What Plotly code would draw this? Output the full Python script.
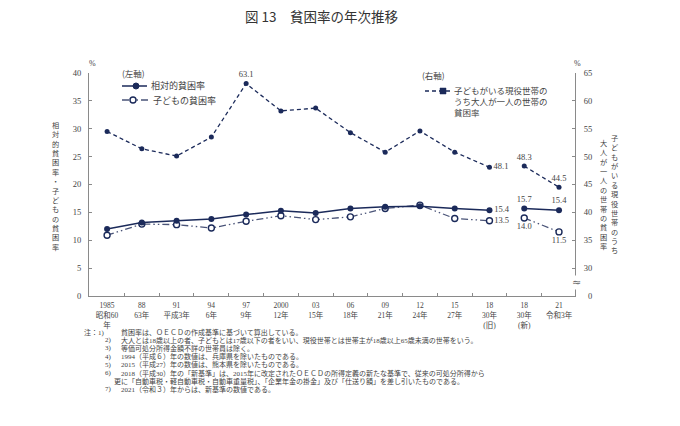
import plotly.graph_objects as go

# ---------------- data ----------------
categories = ["1985<br>昭和60<br>年", "88<br>63年", "91<br>平成3年", "94<br>6年", "97<br>9年",
              "2000<br>12年", "03<br>15年", "06<br>18年", "09<br>21年", "12<br>24年",
              "15<br>27年", "18<br>30年<br>(旧)", "18<br>30年<br>(新)", "21<br>令和3年"]
relative_rate = [12.0, 13.2, 13.5, 13.8, 14.6, 15.3, 14.9, 15.7, 16.0, 16.1, 15.7, 15.4, 15.7, 15.4]
child_rate = [10.9, 12.9, 12.8, 12.2, 13.4, 14.4, 13.7, 14.2, 15.7, 16.3, 13.9, 13.5, 14.0, 11.5]
single_adult_rate = [54.5, 51.4, 50.1, 53.5, 63.1, 58.2, 58.7, 54.3, 50.8, 54.6, 50.8, 48.1, 48.3, 44.5]

relative_labels = [""] * 11 + ["15.4", "15.7", "15.4"]
child_labels = [""] * 11 + ["13.5", "14.0", "11.5"]
single_labels = [""] * 4 + ["63.1"] + [""] * 6 + ["48.1", "48.3", "44.5"]

left_ticks = [0, 5, 10, 15, 20, 25, 30, 35, 40]
right_tickvals = [25, 30, 35, 40, 45, 50, 55, 60, 65]
right_ticktext = ["  0", "30", "35", "40", "45", "50", "55", "60", "65"]

title_text = "図 13　貧困率の年次推移"
left_axis_title = "相対的貧困率・子どもの貧困率"
right_axis_title_col1 = "子どもがいる現役世帯のうち"
right_axis_title_col2 = "大人が一人の世帯の貧困率"
notes = [
    ("注：1)", "貧困率は、ＯＥＣＤの作成基準に基づいて算出している。"),
    ("2)", "大人とは18歳以上の者、子どもとは17歳以下の者をいい、現役世帯とは世帯主が18歳以上65歳未満の世帯をいう。"),
    ("3)", "等価可処分所得金額不詳の世帯員は除く。"),
    ("4)", "1994（平成６）年の数値は、兵庫県を除いたものである。"),
    ("5)", "2015（平成27）年の数値は、熊本県を除いたものである。"),
    ("6)", "2018（平成30）年の「新基準」は、2015年に改定されたＯＥＣＤの所得定義の新たな基準で、従来の可処分所得から"),
    ("", "更に「自動車税・軽自動車税・自動車重量税」、「企業年金の掛金」及び「仕送り額」を差し引いたものである。"),
    ("7)", "2021（令和３）年からは、新基準の数値である。"),
]

# ---------------- style ----------------
NAVY = "#1b2a5a"
CHILD_LINE = "#4a5478"
TXT = "#444444"
AX = "#8a8a8a"
FONT = "Liberation Serif, Noto Sans CJK JP"
JFONT = "Noto Sans CJK JP"

L, R, T, B = 89, 575, 73, 296
W, H = R - L, B - T


def px(x):
    return (x - L) / W


def py(y):
    return (B - y) / H


fig = go.Figure()

old = slice(0, 12)
new = slice(12, 14)


def pos_list(labels, default, special):
    return [special.get(i, default) for i in range(len(labels))]


rel_pos = pos_list(relative_labels, "top center", {11: "middle right"})
child_pos = pos_list(child_labels, "bottom center", {11: "middle right"})
single_pos = pos_list(single_labels, "top center", {11: "middle right"})

for seg in (old, new):
    fig.add_trace(go.Scatter(
        x=categories[seg], y=single_adult_rate[seg], yaxis="y2",
        mode="lines+markers+text", text=single_labels[seg], textposition=single_pos[seg],
        textfont=dict(size=8.5, color=TXT, family=FONT),
        line=dict(color=NAVY, width=1.3, dash="4px,3px"),
        marker=dict(symbol="circle", size=5, color=NAVY),
        showlegend=False, cliponaxis=False))
    fig.add_trace(go.Scatter(
        x=categories[seg], y=child_rate[seg],
        mode="lines+markers+text", text=child_labels[seg], textposition=child_pos[seg],
        textfont=dict(size=8.5, color=TXT, family=FONT),
        line=dict(color=CHILD_LINE, width=1.3, dash="7px,3px,1.5px,3px,1.5px,3px"),
        marker=dict(symbol="circle", size=6, color="white", line=dict(color=NAVY, width=1.4)),
        showlegend=False, cliponaxis=False))
    fig.add_trace(go.Scatter(
        x=categories[seg], y=relative_rate[seg],
        mode="lines+markers+text", text=relative_labels[seg], textposition=rel_pos[seg],
        textfont=dict(size=8.5, color=TXT, family=FONT),
        line=dict(color=NAVY, width=1.5),
        marker=dict(symbol="circle", size=6, color=NAVY),
        showlegend=False, cliponaxis=False))

ann = []
shapes = []


def text_at(x, y, text, size, family=JFONT, xanchor="center", color=TXT, **kw):
    d = dict(x=px(x), y=py(y), xref="paper", yref="paper", text=text, showarrow=False,
             xanchor=xanchor, yanchor="middle", borderpad=0,
             font=dict(size=size, color=color, family=family))
    d.update(kw)
    ann.append(d)


text_at(321, 16, title_text, 13.5, color="#333")
text_at(92, 63, "%", 8, family=FONT)
text_at(577, 63, "%", 8, family=FONT)
text_at(576, 282, "≈", 11, family="DejaVu Sans", color="#666", bgcolor="white")

# vertical axis titles (one character per line)
text_at(55, 186, "<br>".join(left_axis_title), 7.2)
text_at(614, 194, "<br>".join(right_axis_title_col1), 7.2)
text_at(603, 194, "<br>".join(right_axis_title_col2), 7.2)

# legend (left axis)
text_at(121, 73, "(左軸)", 8.5, xanchor="left")
shapes.append(dict(type="line", xref="paper", yref="paper", x0=px(122), x1=px(147),
                   y0=py(86), y1=py(86), line=dict(color=NAVY, width=1.5)))
shapes.append(dict(type="circle", xref="paper", yref="paper", x0=px(133), x1=px(139),
                   y0=py(89), y1=py(83), fillcolor=NAVY, line=dict(color=NAVY, width=1)))
text_at(150, 86, "相対的貧困率", 9, xanchor="left")
shapes.append(dict(type="line", xref="paper", yref="paper", x0=px(122), x1=px(149),
                   y0=py(100), y1=py(100),
                   line=dict(color=CHILD_LINE, width=1.3, dash="7px,3px,1.5px,3px,1.5px,3px")))
shapes.append(dict(type="circle", xref="paper", yref="paper", x0=px(130), x1=px(136),
                   y0=py(103), y1=py(97), fillcolor="white", line=dict(color=NAVY, width=1.4)))
text_at(152, 100, "子どもの貧困率", 9, xanchor="left")

# legend (right axis)
text_at(421, 75, "(右軸)", 8.5, xanchor="left")
shapes.append(dict(type="line", xref="paper", yref="paper", x0=px(425), x1=px(451),
                   y0=py(91), y1=py(91), line=dict(color=NAVY, width=1.3, dash="4px,3px")))
shapes.append(dict(type="rect", xref="paper", yref="paper", x0=px(440), x1=px(446),
                   y0=py(94), y1=py(88), fillcolor=NAVY, line=dict(color=NAVY, width=0.5)))
text_at(453, 101, "子どもがいる現役世帯の<br>うち大人が一人の世帯の<br>貧困率", 8.5,
        xanchor="left", align="left")

# notes
for i, (num, txt) in enumerate(notes):
    yy = 332 + i * 8.2
    if num:
        text_at(106 if i == 0 else 113, yy, num, 7, family=FONT, xanchor="right")
    text_at(120 if num else 113, yy, txt, 7, family=FONT, xanchor="left")

fig.update_layout(
    template="none",
    width=680, height=426,
    margin=dict(l=L, r=680 - R, t=T, b=426 - B, pad=0),
    paper_bgcolor="white", plot_bgcolor="white",
    showlegend=False,
    annotations=ann, shapes=shapes,
    xaxis=dict(type="category", categoryorder="array", categoryarray=categories,
               range=[-0.52, 13.46], showgrid=False, zeroline=False, automargin=False,
               tickangle=0, ticklabelstandoff=2,
               showline=True, linecolor=AX, linewidth=1, ticks="inside", ticklen=3,
               tickcolor=AX, tickson="boundaries",
               tickfont=dict(size=7.5, color=TXT, family=FONT)),
    yaxis=dict(range=[0, 40], tickvals=left_ticks, showgrid=False, zeroline=False,
               automargin=False,
               showline=True, linecolor=AX, linewidth=1, ticks="inside", ticklen=3,
               tickcolor=AX, ticklabelstandoff=5,
               tickfont=dict(size=8.5, color=TXT, family=FONT)),
    yaxis2=dict(range=[25, 65], tickvals=right_tickvals, ticktext=right_ticktext,
                overlaying="y", side="right", showgrid=False, zeroline=False,
                automargin=False,
                showline=True, linecolor=AX, linewidth=1, ticks="inside", ticklen=3,
                tickcolor=AX, ticklabelstandoff=6,
                tickfont=dict(size=8.5, color=TXT, family=FONT)),
)

fig.write_html("out.html", config={"displayModeBar": False},
               post_script="document.body.style.margin='0';document.body.style.padding='0';")
